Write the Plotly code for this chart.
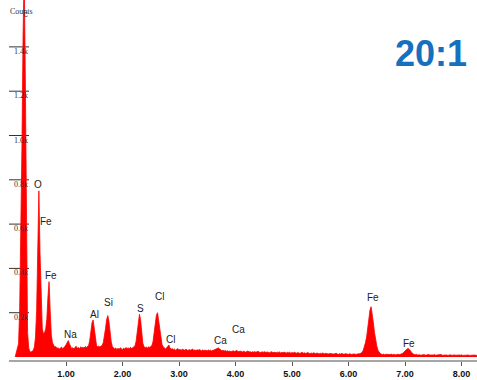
import plotly.graph_objects as go

# EDS spectrum: channel energies (keV) and counts (thousands)
E_START = 0.10
E_STEP = 0.02
counts_k = [
    0.0, 0.02, 0.04, 0.06, 0.22, 0.55, 0.95, 1.45, 1.75, 1.25,          # 0.10-0.28
    0.42, 0.11, 0.04, 0.025, 0.022, 0.026, 0.03, 0.045, 0.09, 0.21,     # 0.30-0.48
    0.48, 0.75, 0.47, 0.22, 0.13, 0.105, 0.11, 0.125, 0.17, 0.27,       # 0.50-0.68
    0.34, 0.21, 0.10, 0.065, 0.05, 0.044, 0.047, 0.038, 0.042, 0.036,   # 0.70-0.88
    0.04, 0.045, 0.037, 0.041, 0.047, 0.055, 0.068, 0.074, 0.06, 0.045, # 0.90-1.08
    0.038, 0.042, 0.036, 0.044, 0.048, 0.039, 0.043, 0.037, 0.046, 0.041,
    0.044, 0.04, 0.047, 0.043, 0.048, 0.052, 0.075, 0.115, 0.155, 0.167,
    0.125, 0.075, 0.052, 0.046, 0.049, 0.045, 0.05, 0.053, 0.065, 0.09,
    0.13, 0.17, 0.187, 0.16, 0.11, 0.07, 0.047, 0.04, 0.036, 0.041,
    0.034, 0.039, 0.035, 0.042, 0.037, 0.033, 0.04, 0.036, 0.043, 0.038,
    0.041, 0.037, 0.044, 0.039, 0.042, 0.046, 0.05, 0.07, 0.12, 0.17,
    0.193, 0.168, 0.11, 0.062, 0.047, 0.042, 0.045, 0.04, 0.046, 0.043,
    0.047, 0.052, 0.07, 0.11, 0.16, 0.19, 0.2, 0.165, 0.12, 0.082,
    0.056, 0.046, 0.04, 0.037, 0.041, 0.047, 0.054, 0.041, 0.035, 0.038,
    0.033, 0.036, 0.031, 0.035, 0.038, 0.032, 0.034, 0.03, 0.036, 0.033,
    0.031, 0.035, 0.032, 0.029, 0.034, 0.031, 0.033, 0.036, 0.03, 0.032,
    0.029, 0.033, 0.03, 0.034, 0.031, 0.028, 0.032, 0.029, 0.031, 0.03,
    0.028, 0.032, 0.029, 0.031, 0.027, 0.03, 0.031, 0.034, 0.037, 0.04,
    0.041, 0.036, 0.031, 0.028, 0.03, 0.027, 0.029, 0.026, 0.028, 0.025,
    0.027, 0.024, 0.026, 0.028, 0.025, 0.027, 0.029, 0.026, 0.024, 0.027,
    0.025, 0.023, 0.026, 0.024, 0.022, 0.025, 0.027, 0.023, 0.024, 0.021,
    0.024, 0.022, 0.025, 0.021, 0.023, 0.026, 0.022, 0.02, 0.023, 0.021,
    0.022, 0.024, 0.02, 0.023, 0.021, 0.019, 0.022, 0.024, 0.02, 0.022,
    0.021, 0.019, 0.022, 0.02, 0.023, 0.018, 0.021, 0.019, 0.022, 0.02,
    0.018, 0.021, 0.019, 0.022, 0.017, 0.02, 0.018, 0.021, 0.019, 0.017,
    0.02, 0.018, 0.016, 0.019, 0.021, 0.017, 0.019, 0.016, 0.018, 0.02,
    0.017, 0.015, 0.018, 0.016, 0.019, 0.017, 0.015, 0.018, 0.016, 0.014,
    0.017, 0.015, 0.018, 0.016, 0.014, 0.017, 0.015, 0.013, 0.016, 0.015,
    0.014, 0.016, 0.013, 0.015, 0.017, 0.014, 0.012, 0.015, 0.013, 0.016,
    0.014, 0.012, 0.015, 0.013, 0.014, 0.012, 0.015, 0.013, 0.011, 0.014,
    0.013, 0.015, 0.012, 0.014, 0.013, 0.015, 0.017, 0.021, 0.03, 0.045,
    0.065, 0.09, 0.13, 0.175, 0.212, 0.227, 0.2, 0.155, 0.11, 0.075,
    0.05, 0.031, 0.021, 0.016, 0.013, 0.011, 0.013, 0.01, 0.012, 0.011,
    0.012, 0.01, 0.011, 0.013, 0.01, 0.012, 0.011, 0.009, 0.012, 0.01,
    0.011, 0.012, 0.013, 0.017, 0.022, 0.028, 0.033, 0.037, 0.038, 0.034,
    0.027, 0.019, 0.014, 0.011, 0.01, 0.012, 0.009, 0.011, 0.01, 0.008,
    0.01, 0.009, 0.011, 0.008, 0.01, 0.009, 0.011, 0.009, 0.008, 0.01,
    0.009, 0.011, 0.008, 0.009, 0.01, 0.008, 0.009, 0.011, 0.008, 0.009,
    0.01, 0.008, 0.009, 0.007, 0.009, 0.01, 0.008, 0.009, 0.007, 0.009,
    0.008, 0.009, 0.007, 0.009, 0.008, 0.01, 0.007, 0.008, 0.009, 0.007,
    0.008, 0.009, 0.007, 0.008, 0.009, 0.007, 0.008, 0.009, 0.007, 0.008,
]
energy_kev = [round(E_START + E_STEP * i, 2) for i in range(len(counts_k))]

# Peak labels: element, energy (keV), label height (k counts)
peak_elements = ["O", "Fe", "Fe", "Na", "Al", "Si", "S", "Cl", "Cl", "Ca", "Ca", "Fe", "Fe"]
peak_label_kev = [0.513, 0.64, 0.729, 1.071, 1.502, 1.749, 2.31, 2.655, 2.846, 3.726, 4.05, 6.434, 7.074]
peak_label_k = [0.777, 0.612, 0.368, 0.10, 0.194, 0.245, 0.218, 0.271, 0.078, 0.074, 0.122, 0.269, 0.063]

x_ticks = [1, 2, 3, 4, 5, 6, 7, 8]
y_ticks = [0.2, 0.4, 0.6, 0.8, 1.0, 1.2, 1.4]
y_tick_text = ["0.2k", "0.4k", "0.6k", "0.8k", "1.0k", "1.2k", "1.4k"]

W, H = 477, 380
ML, MR, MT, MB = 9, 0, 0, 20
PLOT_W = W - ML - MR
X_RANGE = [-0.009, 8.274]
Y_RANGE = [-0.01354, 1.6117]
KEV_PER_PX = (X_RANGE[1] - X_RANGE[0]) / PLOT_W


def paper_xy(px, py):
    """Convert a page pixel position to paper coordinates."""
    return (px - ML) / PLOT_W, 1 - (py - MT) / (H - MT - MB)


fig = go.Figure()

fig.add_trace(go.Scatter(
    x=energy_kev, y=counts_k, mode="lines",
    line=dict(color="#ff0000", width=0.8),
    fill="tozeroy", fillcolor="#ff0000",
    showlegend=False,
))

# short 20 px count ticks along the left edge, drawn beneath the spectrum
shapes = [
    dict(type="line", xref="x", yref="y",
         x0=X_RANGE[0], x1=X_RANGE[0] + 20 * KEV_PER_PX, y0=v, y1=v,
         line=dict(color="#333", width=1), layer="below")
    for v in y_ticks
]

annotations = [
    dict(x=xv, y=yv, text=t, showarrow=False, xref="x", yref="y",
         xanchor="center", yanchor="middle",
         font=dict(family="Liberation Sans", size=10, color="#222"))
    for t, xv, yv in zip(peak_elements, peak_label_kev, peak_label_k)
]

# count labels hang just beneath their tick marks
annotations += [
    dict(x=X_RANGE[0] + 3.5 * KEV_PER_PX, y=v, xref="x", yref="y", text=t,
         showarrow=False, xanchor="left", yanchor="top", yshift=1,
         borderpad=0, font=dict(family="Liberation Serif", size=8, color="#333"))
    for v, t in zip(y_ticks, y_tick_text)
]

for text, px, py, font in [
    ("Counts", 21.7, 11, dict(family="Liberation Serif", size=8, color="#333")),
    ("<b>20:1</b>", 430.5, 53.7, dict(family="Liberation Sans", size=36, color="#1570be")),
    ("C", 25, 14.5, dict(family="Liberation Sans", size=7, color="#333")),
]:
    ax, ay = paper_xy(px, py)
    annotations.append(dict(x=ax, y=ay, xref="paper", yref="paper", text=text,
                            showarrow=False, xanchor="center", yanchor="middle",
                            font=font))

fig.update_layout(
    width=W, height=H,
    margin=dict(l=ML, r=MR, t=MT, b=MB, pad=0),
    paper_bgcolor="white", plot_bgcolor="white",
    annotations=annotations,
    shapes=shapes,
    xaxis=dict(
        range=X_RANGE, tickvals=x_ticks, tickformat=".2f",
        ticks="outside", ticklen=4, tickwidth=1, tickcolor="#555",
        showline=True, linecolor="#a6a6a6", linewidth=2,
        showgrid=False, zeroline=False,
        tickfont=dict(family="Liberation Sans", size=9, color="#111", weight="bold"),
    ),
    yaxis=dict(
        range=Y_RANGE, tickvals=y_ticks,
        showticklabels=False, showgrid=False, zeroline=False, showline=False,
    ),
)

fig.write_html("out.html")
